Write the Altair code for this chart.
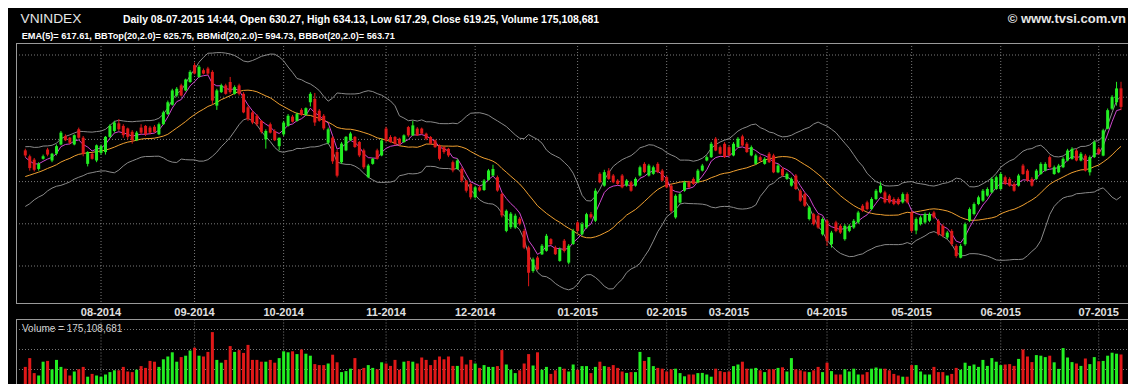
import altair as alt
import pandas as pd

# ---------------- data ----------------
open_ = [593.5, 590.0, 588.0, 582.5, 588.5, 594.0, 587.5, 591.5, 597.0, 602.0,
         601.0, 597.0, 606.0, 601.0, 585.5, 591.5, 587.5, 592.0, 592.5, 601.5,
         605.0, 609.5, 608.0, 606.5, 604.5, 599.5, 607.0, 608.0, 607.0, 607.5,
         603.0, 609.0, 615.0, 620.5, 626.0, 632.0, 629.0, 634.0, 644.0, 637.0,
         641.0, 642.0, 640.0, 620.0, 628.0, 632.0, 634.0, 627.0, 632.0, 627.0,
         619.0, 616.0, 614.0, 611.0, 600.0, 609.0, 605.0, 596.0, 603.0, 608.0,
         613.5, 611.0, 617.5, 614.5, 622.0, 624.0, 617.0, 614.0, 598.0, 601.0,
         592.5, 586.5, 593.5, 599.5, 601.5, 598.5, 593.5, 577.6, 585.5, 593.5,
         590.5, 606.4, 601.4, 601.4, 600.4, 598.4, 607.3, 602.4, 606.4, 606.4,
         603.4, 601.4, 599.4, 596.4, 595.4, 594.4, 586.5, 582.5, 582.5, 575.6,
         573.6, 565.7, 571.6, 570.0, 576.0, 578.6, 577.6, 567.7, 545.8, 548.0,
         547.8, 553.0, 545.8, 536.0, 522.0, 530.0, 531.9, 534.0, 540.9, 536.0,
         528.0, 540.0, 527.0, 538.0, 550.8, 543.8, 547.8, 555.7, 551.8, 579.6,
         572.6, 581.5, 578.6, 575.6, 578.6, 572.6, 574.6, 572.6, 578.6, 585.5,
         578.6, 579.6, 585.5, 581.5, 577.6, 572.6, 553.8, 562.6, 569.6, 574.6,
         576.6, 574.6, 581.5, 587.5, 589.5, 600.4, 595.4, 597.4, 595.4, 590.5,
         595.4, 601.8, 597.4, 590.5, 585.5, 589.5, 585.5, 591.5, 590.5, 580.5,
         582.5, 576.6, 572.6, 578.6, 569.6, 567.6, 552.8, 555.7, 554.8, 543.8,
         551.8, 537.9, 550.8, 548.8, 540.9, 545.8, 547.8, 550.8, 560.7, 562.7,
         558.7, 564.7, 568.6, 568.6, 566.7, 564.7, 564.7, 562.7, 567.6, 556.7,
         546.0, 549.8, 550.8, 551.8, 556.7, 551.8, 548.8, 541.9, 545.8, 536.9,
         529.9, 537.9, 551.8, 555.8, 561.7, 563.7, 566.7, 568.6, 570.6, 570.6,
         577.6, 576.6, 573.6, 572.6, 584.5, 581.5, 576.6, 576.6, 579.5, 581.5,
         589.5, 579.5, 580.5, 583.5, 587.5, 588.5, 593.4, 587.5, 590.4, 580.5,
         589.5, 594.4, 590.4, 606.3, 618.2, 622.0, 630.27]

high = [594.5, 591.0, 589.0, 586.5, 591.0, 595.0, 592.0, 597.0, 605.0, 603.0,
        601.5, 603.0, 607.0, 602.0, 593.0, 592.0, 597.0, 597.0, 602.0, 609.0,
        611.0, 612.0, 609.0, 607.0, 605.5, 605.0, 609.0, 608.5, 608.0, 608.5,
        610.0, 617.0, 623.0, 630.0, 631.0, 633.0, 636.0, 641.0, 645.5, 644.0,
        642.0, 643.0, 641.0, 630.0, 633.0, 633.0, 637.0, 632.0, 633.0, 628.0,
        620.0, 617.0, 615.0, 611.5, 606.0, 610.0, 606.0, 601.0, 611.0, 615.0,
        614.5, 616.0, 618.5, 619.0, 628.0, 627.5, 618.0, 615.0, 607.0, 602.0,
        594.0, 598.5, 602.0, 604.5, 602.0, 599.0, 594.5, 585.5, 589.0, 594.5,
        600.5, 607.5, 602.5, 602.0, 601.0, 603.0, 608.0, 611.0, 607.3, 607.0,
        604.0, 602.0, 600.0, 597.0, 596.0, 595.0, 587.5, 588.5, 583.5, 576.0,
        574.5, 572.5, 572.5, 576.5, 582.5, 585.0, 578.6, 568.5, 558.5, 557.0,
        556.0, 554.0, 547.0, 537.0, 530.0, 531.0, 538.0, 544.0, 541.5, 537.0,
        536.0, 541.0, 538.0, 547.0, 551.5, 551.0, 556.5, 557.0, 571.0, 580.5,
        582.0, 583.0, 579.5, 576.5, 579.5, 576.5, 575.5, 577.5, 584.5, 586.5,
        585.5, 584.5, 586.5, 582.5, 578.5, 573.5, 567.5, 568.5, 575.5, 575.5,
        577.5, 582.5, 585.5, 590.5, 598.5, 601.4, 596.4, 598.4, 596.4, 598.4,
        601.4, 602.8, 598.4, 596.4, 591.5, 590.5, 589.5, 592.5, 591.5, 585.5,
        583.5, 580.5, 577.5, 579.5, 570.5, 568.5, 560.5, 556.5, 555.7, 553.8,
        552.8, 545.8, 551.8, 549.8, 549.8, 549.8, 552.8, 557.7, 561.7, 563.7,
        565.7, 570.6, 574.6, 569.6, 567.6, 565.7, 565.7, 568.6, 568.6, 557.7,
        553.8, 554.8, 556.7, 556.7, 557.7, 552.8, 549.8, 545.8, 546.8, 537.9,
        538.0, 550.8, 559.7, 562.7, 566.7, 570.6, 571.6, 577.6, 578.6, 580.5,
        578.6, 577.6, 574.6, 579.6, 585.5, 582.5, 577.6, 582.5, 586.5, 586.5,
        590.5, 584.5, 585.5, 589.5, 594.4, 595.4, 594.4, 592.5, 591.4, 590.5,
        599.4, 595.4, 606.3, 618.3, 626.2, 634.1, 634.13]

low = [589.5, 581.5, 581.0, 581.5, 588.0, 590.0, 586.5, 590.5, 596.5, 599.0,
       597.0, 596.5, 600.5, 590.0, 584.0, 588.0, 586.5, 591.0, 591.0, 601.0,
       604.0, 605.0, 601.0, 600.0, 597.5, 599.0, 603.0, 602.0, 603.0, 604.0,
       602.5, 608.5, 614.5, 620.0, 625.0, 625.5, 628.5, 633.5, 638.5, 636.5,
       638.5, 638.0, 621.0, 617.5, 627.5, 626.5, 627.0, 626.5, 626.0, 615.5,
       611.0, 609.0, 608.0, 603.5, 594.5, 603.5, 599.0, 593.5, 602.0, 607.5,
       610.0, 610.5, 614.0, 614.0, 619.5, 608.0, 610.5, 605.5, 597.0, 585.5,
       577.5, 585.5, 593.0, 599.0, 595.0, 589.5, 582.5, 577.0, 585.0, 588.0,
       590.0, 598.5, 598.0, 596.5, 596.5, 598.0, 601.5, 602.0, 602.0, 603.0,
       599.5, 597.0, 595.0, 587.5, 591.5, 589.5, 580.5, 582.0, 574.5, 568.5,
       564.5, 565.0, 569.0, 569.5, 575.5, 578.0, 569.0, 553.8, 545.0, 547.0,
       547.0, 549.0, 535.0, 513.0, 521.0, 522.5, 531.5, 533.5, 537.5, 531.5,
       527.5, 533.0, 526.0, 537.5, 545.0, 543.0, 547.0, 553.0, 551.0, 574.0,
       572.0, 576.0, 574.0, 573.0, 571.0, 572.0, 569.0, 572.0, 578.0, 580.0,
       578.0, 579.0, 580.0, 575.0, 571.0, 556.5, 553.0, 562.0, 569.0, 571.0,
       573.0, 574.0, 581.0, 587.0, 589.0, 593.0, 591.0, 589.0, 590.0, 590.0,
       595.0, 596.0, 592.0, 590.0, 585.0, 587.0, 585.0, 586.0, 580.0, 580.0,
       578.0, 576.0, 572.0, 570.0, 563.0, 560.0, 552.0, 549.0, 547.0, 543.0,
       536.9, 535.9, 545.0, 544.0, 540.0, 545.0, 547.0, 550.0, 557.0, 558.0,
       558.0, 564.0, 568.0, 562.0, 562.0, 561.0, 561.0, 562.0, 562.0, 544.8,
       543.8, 549.0, 550.0, 551.0, 553.0, 543.0, 542.0, 541.0, 537.0, 529.9,
       529.5, 537.0, 551.0, 555.0, 561.0, 563.0, 566.0, 568.0, 570.0, 570.0,
       573.0, 572.0, 569.0, 572.0, 579.0, 575.0, 572.0, 576.0, 579.0, 581.0,
       583.0, 579.0, 580.0, 583.0, 587.0, 588.0, 587.0, 587.0, 581.0, 578.6,
       589.0, 591.0, 590.0, 606.0, 617.5, 620.0, 617.29]

close = [590.5, 583.0, 582.0, 585.5, 590.0, 591.0, 591.5, 596.0, 604.0, 599.5,
         598.0, 602.5, 601.0, 591.5, 592.5, 588.5, 596.5, 596.0, 601.5, 608.0,
         610.0, 606.0, 602.5, 601.5, 599.5, 604.0, 604.0, 603.0, 604.0, 604.5,
         609.0, 616.0, 622.0, 629.0, 630.0, 626.0, 635.5, 640.0, 639.0, 643.0,
         639.0, 639.0, 623.0, 629.0, 632.0, 627.0, 628.0, 631.0, 627.0, 616.0,
         612.0, 610.0, 609.0, 604.5, 605.0, 604.0, 599.5, 601.0, 610.0, 614.0,
         610.5, 615.0, 614.5, 618.5, 627.0, 610.0, 611.0, 606.5, 606.0, 587.0,
         578.5, 597.5, 601.5, 603.5, 595.5, 590.5, 583.5, 584.5, 588.5, 588.5,
         599.4, 599.4, 598.4, 597.4, 597.4, 602.4, 602.4, 608.3, 602.4, 603.4,
         600.4, 597.4, 595.4, 588.5, 592.5, 590.5, 581.6, 587.5, 575.6, 569.6,
         565.7, 571.6, 569.7, 575.6, 581.6, 582.5, 569.7, 555.0, 557.7, 556.0,
         554.8, 550.0, 535.9, 521.0, 528.9, 523.0, 537.0, 542.9, 537.9, 532.0,
         535.0, 533.9, 537.0, 545.8, 545.8, 549.8, 555.7, 553.8, 569.6, 574.6,
         580.6, 576.6, 574.6, 573.6, 571.6, 575.6, 569.6, 576.6, 583.5, 580.6,
         584.5, 583.5, 580.6, 575.6, 571.6, 557.7, 566.6, 567.6, 574.6, 571.6,
         573.6, 581.5, 584.5, 589.5, 597.4, 593.4, 591.5, 589.5, 590.5, 597.4,
         600.4, 596.4, 592.5, 595.4, 590.5, 587.5, 588.5, 586.5, 580.5, 584.5,
         578.6, 579.6, 576.6, 570.6, 563.7, 560.7, 559.7, 549.8, 547.8, 552.8,
         539.9, 544.8, 545.8, 544.8, 548.8, 548.8, 551.8, 556.7, 557.7, 558.7,
         564.7, 569.6, 572.6, 562.7, 562.7, 561.7, 561.7, 567.6, 562.7, 545.8,
         552.8, 553.8, 555.8, 555.8, 553.8, 543.8, 542.9, 544.8, 537.9, 530.9,
         536.9, 549.8, 558.7, 561.7, 565.7, 569.6, 570.6, 576.6, 577.6, 579.5,
         573.6, 572.6, 569.6, 578.6, 579.5, 575.6, 572.6, 581.5, 585.5, 585.5,
         583.5, 583.5, 584.5, 588.5, 593.4, 594.4, 587.5, 591.5, 581.5, 589.5,
         598.4, 591.5, 605.4, 617.3, 625.2, 630.2, 619.25]

# volume in millions of shares
volume_m = [113, 157, 82, 70, 139, 143, 101, 148, 113, 104,
            70, 90, 101, 113, 64, 78, 70, 64, 75, 87,
            96, 96, 113, 90, 87, 99, 117, 108, 143, 139,
            113, 151, 165, 186, 139, 162, 169, 195, 209, 169,
            165, 188, 287, 148, 134, 148, 217, 188, 197, 183,
            223, 148, 148, 139, 139, 148, 134, 157, 191, 186,
            191, 177, 200, 179, 169, 127, 122, 122, 130, 174,
            136, 87, 92, 104, 157, 101, 108, 122, 108, 101,
            136, 130, 118, 148, 99, 139, 143, 139, 130, 160,
            148, 122, 148, 165, 151, 165, 118, 118, 165, 125,
            148, 130, 108, 122, 113, 113, 117, 197, 125, 99,
            82, 96, 130, 177, 120, 186, 99, 113, 78, 96,
            113, 104, 90, 125, 99, 117, 117, 82, 113, 139,
            117, 113, 122, 108, 90, 83, 87, 87, 188, 143,
            162, 117, 108, 104, 90, 101, 104, 82, 66, 75,
            75, 82, 83, 75, 64, 104, 92, 87, 90, 117,
            125, 139, 104, 104, 108, 96, 87, 101, 101, 108,
            111, 90, 157, 101, 96, 90, 87, 96, 113, 87,
            134, 92, 75, 75, 101, 90, 104, 75, 75, 87,
            104, 110, 104, 104, 96, 78, 70, 64, 64, 122,
            122, 90, 75, 75, 113, 87, 87, 70, 78, 108,
            99, 134, 118, 125, 113, 148, 118, 157, 139, 122,
            125, 127, 118, 153, 200, 165, 137, 172, 169, 162,
            169, 136, 103, 207, 160, 137, 130, 118, 155, 127,
            162, 141, 143, 169, 184, 179, 175.1]

# closes of the 19 sessions before the window (only used to warm up EMA / Bollinger)
prior_close = [566, 564, 568, 570, 567, 571, 573, 572, 576, 578,
               575, 580, 583, 582, 585, 587, 589, 591, 592]

month_ticks = [17, 38, 58, 81, 101, 124, 144, 158, 180, 199, 219, 241]
month_labels = ["08-2014", "09-2014", "10-2014", "11-2014", "12-2014", "01-2015",
                "02-2015", "03-2015", "04-2015", "05-2015", "06-2015", "07-2015"]
price_grid = [525, 550, 575, 600, 625, 650]
volume_grid = [100, 200, 300]

title_text = "VNINDEX"
quote_text = ("Daily 08-07-2015 14:44, Open 630.27, High 634.13, Low 617.29, "
              "Close 619.25, Volume 175,108,681")
indicator_text = ("EMA(5)= 617.61, BBTop(20,2.0)= 625.75, BBMid(20,2.0)= 594.73, "
                  "BBBot(20,2.0)= 563.71")
credit_text = "© www.tvsi.com.vn"
volume_text = "Volume = 175,108,681"

# ---------------- indicators (EMA(5), Bollinger(20, 2.0)) ----------------
n = len(close)
allc = pd.Series(prior_close + close, dtype=float)
ema = allc.ewm(span=5, adjust=False).mean().iloc[-n:].to_numpy()
mid = allc.rolling(20).mean().iloc[-n:].to_numpy()
sd = allc.rolling(20).std(ddof=0).iloc[-n:].to_numpy()

df = pd.DataFrame({
    "i": list(range(n)),
    "open": open_, "high": high, "low": low, "close": close,
    "vol": volume_m,
    "dir": ["up" if c >= o else "down" for o, c in zip(open_, close)],
    "ema": ema, "mid": mid, "top": mid + 2 * sd, "bot": mid - 2 * sd,
    "zero": [0] * n,
})
ticks = pd.DataFrame({"t": month_ticks, "label": month_labels})
pgrid = pd.DataFrame({"lvl": price_grid})
vgrid = pd.DataFrame({"lvl": volume_grid})
one = pd.DataFrame({"a": [0]})

# ---------------- styling ----------------
GREEN = "#22ee22"
RED = "#e01818"
GRID = "#7a7a7a"
BORDER = "#9a9a9a"
FONT = "Liberation Sans"
W, H = 1120, 376

xs = alt.Scale(domain=[0, 246], range=[12.3, 1118], nice=False, zero=False)
ps = alt.Scale(domain=[525, 650], range=[258, 47], nice=False, zero=False)
vs = alt.Scale(domain=[0, 300], range=[381.5, 321.5], nice=False, zero=False)


def X(f):
    return alt.X(f, type="quantitative", scale=xs, axis=None)


def YP(f):
    return alt.Y(f, type="quantitative", scale=ps, axis=None)


def YV(f):
    return alt.Y(f, type="quantitative", scale=vs, axis=None)


col = alt.Color("dir:N", scale=alt.Scale(domain=["up", "down"], range=[GREEN, RED]), legend=None)
dotted = dict(color=GRID, strokeDash=[1, 2], strokeWidth=1)

layers = []
# grids
layers.append(alt.Chart(pgrid).mark_rule(**dotted).encode(
    y=YP("lvl"), x=alt.value(8), x2=alt.value(W)))
layers.append(alt.Chart(vgrid).mark_rule(**dotted).encode(
    y=YV("lvl"), x=alt.value(8), x2=alt.value(W)))
layers.append(alt.Chart(ticks).mark_rule(**dotted).encode(
    x=X("t"), y=alt.value(35), y2=alt.value(295)))
layers.append(alt.Chart(ticks).mark_rule(**dotted).encode(
    x=X("t"), y=alt.value(311.5), y2=alt.value(382)))
# panel borders
for (x1, x2, y1, y2) in [(8, W, 35.5, 35.5), (8, W, 295.5, 295.5), (8.5, 8.5, 35.5, 295.5),
                         (8, W, 311.5, 311.5), (8.5, 8.5, 311.5, 382)]:
    layers.append(alt.Chart(one).mark_rule(color=BORDER, strokeWidth=1).encode(
        x=alt.value(x1), x2=alt.value(x2), y=alt.value(y1), y2=alt.value(y2)))
# indicator lines
for field, c in [("top", "#8a8a8a"), ("bot", "#8a8a8a"), ("mid", "#f0a030"), ("ema", "#d048d0")]:
    layers.append(alt.Chart(df).mark_line(color=c, strokeWidth=1).encode(
        x=X("i"), y=YP(field)))
# candles
layers.append(alt.Chart(df).mark_rule(strokeWidth=1).encode(
    x=X("i"), y=YP("low"), y2="high", color=col))
layers.append(alt.Chart(df).mark_bar(size=3).encode(
    x=X("i"), y=YP("open"), y2="close", color=col))
# volume
layers.append(alt.Chart(df).mark_bar(size=3).encode(
    x=X("i"), y=YV("vol"), y2="zero", color=col))
# texts
layers.append(alt.Chart(ticks).mark_text(
    font=FONT, fontSize=11, fontWeight="bold", color="#e0e0e0", align="center",
    baseline="alphabetic").encode(x=X("t"), y=alt.value(308), text="label:N"))
for txt, x, y, size, weight, color, align in [
    (title_text, 12.5, 14.7, 13.7, "normal", "#e6e6e6", "left"),
    (quote_text, 115, 15.3, 10.45, "bold", "#ffffff", "left"),
    (indicator_text, 13.7, 31.3, 9.2, "bold", "#ffffff", "left"),
    (credit_text, 1118, 14.7, 13, "bold", "#e6e6e6", "right"),
    (volume_text, 14, 324, 10, "normal", "#d0d0d0", "left"),
]:
    layers.append(alt.Chart(one).mark_text(
        text=txt, font=FONT, fontSize=size, fontWeight=weight, color=color,
        align=align, baseline="alphabetic").encode(x=alt.value(x), y=alt.value(y)))

chart = alt.layer(*layers).resolve_scale(y="independent").properties(
    width=W, height=H, padding=0,
    autosize=alt.AutoSizeParams(type="none"),
    background="#000000",
).configure_view(stroke=None)

chart.save("out.html", embed_options={"renderer": "svg", "actions": False})
